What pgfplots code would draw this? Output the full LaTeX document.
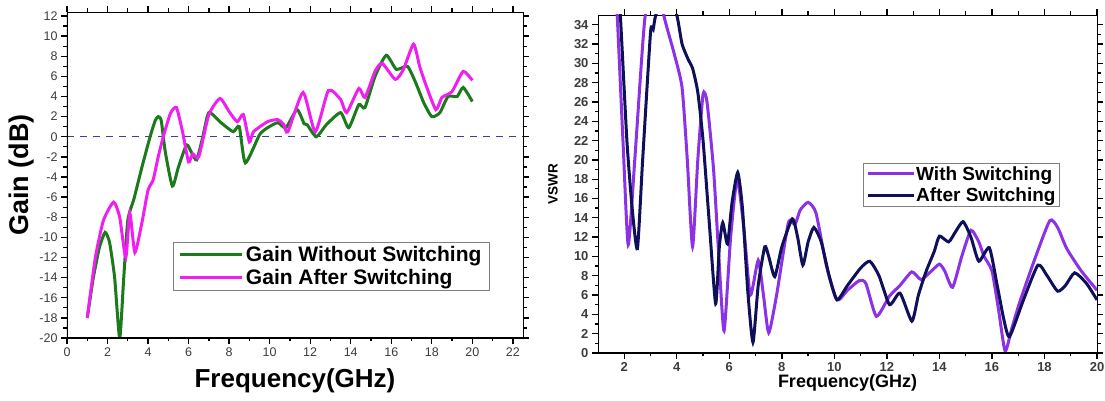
\documentclass[border=0pt]{standalone}
\usepackage{fontspec}
\setmainfont{Liberation Sans}
\usepackage{pgfplots}
\pgfplotsset{compat=1.18}
\definecolor{cgreen}{RGB}{27,122,27}
\definecolor{cmag}{RGB}{240,30,240}
\definecolor{cpurp}{RGB}{140,50,230}
\definecolor{cnavy}{RGB}{16,16,90}
\definecolor{cdash}{RGB}{60,60,170}
\definecolor{ctick}{RGB}{60,60,60}

\pgfplotsset{
  panel/.style={
    scale only axis, anchor=south west,
    /pgf/number format/assume math mode=true,
    tick align=outside, major tick length=6pt, minor tick length=3.5pt,
    every tick/.style={black, line width=1.3pt},
    axis line style={black, line width=0.8pt},
    minor x tick num=1, minor y tick num=1,
    legend cell align=left,
  }
}

\begin{document}
\begin{tikzpicture}
\useasboundingbox (0pt,0pt) rectangle (1105pt,401pt);

% ---- gain
\begin{axis}[panel, at={(67pt,63pt)}, width=456pt, height=326pt,
  xmin=0, xmax=22.5, ymin=-20, ymax=12.4,
  xtick={0,2,...,22}, ytick={-20,-18,...,12},
  tick label style={font=\fontsize{12.5}{14}\selectfont, text=ctick},
  xlabel={\bfseries Frequency(GHz)}, ylabel={\bfseries Gain (dB)},
  xlabel style={font=\fontsize{26}{30}\selectfont, at={(axis description cs:0.5,-0.13)}, anchor=center},
  ylabel style={font=\fontsize{27}{30}\selectfont, at={(axis description cs:-0.1,0.5)}, anchor=center},
  legend image code/.code={\path (0pt,0pt) -- (62pt,0pt); \draw[#1, line width=3.5pt] (22pt,0pt) -- (52pt,0pt);},
  legend style={at={(rel axis cs:0.232,0.294)}, anchor=north west, draw=gray,
    font=\bfseries\fontsize{21}{24}\selectfont, row sep=2pt, inner xsep=6pt, inner ysep=2pt},
]
\addplot[cdash, line width=1pt, dash pattern=on 7pt off 6pt, forget plot] coordinates {(0,0) (22.5,0)};
\addplot[cgreen, line width=3pt, smooth, tension=0.35] coordinates {
(1,-18) (1.3,-14) (1.6,-11) (1.88,-9.5) (2.1,-10.5) (2.35,-14) (2.6,-20) (2.8,-14) (3.0,-8.3)
(3.3,-6.2) (3.7,-3) (4.1,0) (4.35,1.6) (4.5,2.0) (4.65,1.6) (4.85,-1.5) (5.2,-4.9) (5.5,-3)
(5.9,-0.8) (6.15,-1.6) (6.4,-2.3) (6.7,0) (7.0,2.4) (7.6,1.4) (8.2,0.5) (8.5,1.0) (8.8,-2.6)
(9.5,0.2) (9.9,0.9) (10.4,1.4) (10.8,0.9) (11.35,2.7) (11.7,1.3) (11.85,1.2) (12.3,0) (12.8,1.2)
(13.5,2.4) (13.9,0.9) (14.4,3.2) (14.7,2.9) (15.2,6) (15.75,8.1) (16.25,6.7) (16.8,7) (17.2,5.4)
(17.6,3.4) (18.0,2.0) (18.4,2.4) (18.8,4) (19.25,4.0) (19.55,4.9) (20.0,3.5)};
\addplot[cmag, line width=3pt, smooth, tension=0.35] coordinates {
(1,-18) (1.4,-12) (1.8,-8.3) (2.3,-6.5) (2.6,-8) (2.9,-12) (3.1,-7.6) (3.35,-11.5) (3.7,-8.5)
(4.0,-5.3) (4.25,-4.3) (4.5,-2) (4.75,0) (5.1,2.3) (5.4,2.9) (5.7,0.5) (6.0,-2.5) (6.2,-1.7)
(6.5,-2) (7.0,2.2) (7.55,3.8) (8.0,2.5) (8.4,1.5) (8.7,2.2) (9.0,-0.5) (9.2,0.5) (9.9,1.5)
(10.4,1.7) (10.7,1.2) (10.9,0.5) (11.65,4.4) (12.25,0.5) (12.9,4.6) (13.5,3.7) (13.8,2.4)
(14.4,4.8) (14.7,3.9) (15.2,6.5) (15.55,7.3) (16.2,5.7) (16.6,6.7) (17.1,9.2) (17.4,7)
(17.7,5.2) (18.2,2.7) (18.5,3.9) (19.0,4.5) (19.55,6.5) (20.0,5.6)};
\legend{Gain Without Switching, Gain After Switching}
\draw[black, line width=2.4pt] (rel axis cs:0,1) -- (rel axis cs:0,0) -- (rel axis cs:1,0);
\end{axis}

% ---- vswr
\begin{axis}[panel, at={(598pt,48pt)}, width=499pt, height=338pt,
  xmin=1, xmax=20, ymin=0, ymax=35,
  xtick={2,4,...,20}, ytick={0,2,...,34},
  tick label style={font=\bfseries\fontsize{13}{15}\selectfont, text=ctick},
  xlabel={\bfseries Frequency(GHz)}, ylabel={\bfseries VSWR},
  xlabel style={font=\fontsize{18}{21}\selectfont, at={(axis description cs:0.5,-0.089)}, anchor=center},
  ylabel style={font=\fontsize{13.5}{16}\selectfont, at={(axis description cs:-0.09,0.5)}, anchor=center},
  legend image code/.code={\path (-2pt,0pt) -- (44pt,0pt); \draw[#1, line width=3pt] (0pt,0pt) -- (44pt,0pt);},
  legend style={at={(rel axis cs:0.531,0.562)}, anchor=north west, draw=gray,
    font=\bfseries\fontsize{19}{21}\selectfont, row sep=2pt, inner xsep=3pt, inner ysep=1pt,
    nodes={inner xsep=1pt}},
]
\addplot[cpurp, line width=3pt, smooth, tension=0.35] coordinates {
(1.6,40) (1.73,35) (1.95,22) (2.15,11.2) (2.4,20) (2.65,30) (2.8,35) (3.15,40) (3.5,35)
(3.9,31) (4.2,27.5) (4.4,20) (4.6,11) (4.8,20) (5.0,26.8) (5.15,26) (5.4,19) (5.6,10) (5.8,2.3)
(6.05,12) (6.3,18) (6.55,13) (6.8,6) (7.1,9.6) (7.3,6) (7.5,2.1) (7.8,6) (8.25,13.5) (8.5,13.3)
(8.7,14.8) (9.0,15.6) (9.3,14.5) (9.7,9) (10.1,5.5) (10.5,6.5) (10.95,7.5) (11.2,7.2) (11.6,3.8)
(12.1,5.9) (12.5,7) (12.95,8.4) (13.3,7.6) (13.7,8.5) (14.0,9.2) (14.2,8.5) (14.5,6.8) (14.85,10)
(15.2,12.7) (15.5,11.5) (15.7,10) (16.0,8.5) (16.25,4.5) (16.5,0.2) (16.75,2.5) (17.05,5.2)
(17.6,9.5) (18.2,13.7) (18.5,13) (18.85,10.8) (19.4,8.5) (20,6.5)};
\addplot[cnavy, line width=3pt, smooth, tension=0.35] coordinates {
(1.7,40) (1.85,35) (2.1,22) (2.3,15) (2.5,10.8) (2.7,20) (3.0,33.2) (3.1,33.5) (3.2,35) (3.6,38)
(4.0,35) (4.2,32) (4.45,30.3) (4.6,29.5) (4.8,27) (5.0,22) (5.25,13) (5.48,5.1) (5.62,11)
(5.75,13.5) (5.93,11.3) (6.1,15.5) (6.32,18.7) (6.5,15) (6.7,6.5) (6.9,1.1) (7.1,7) (7.35,11)
(7.5,10) (7.73,7.9) (8.0,11) (8.4,13.9) (8.6,12) (8.8,9.1) (9.0,11.5) (9.22,13) (9.5,11.5)
(9.8,8) (10.1,5.5) (10.5,7) (11.0,8.8) (11.35,9.5) (11.7,8) (12.1,5) (12.5,6.2) (12.95,3.3)
(13.2,6) (13.5,8.5) (13.8,10.5) (14.0,12.1) (14.35,11.5) (14.6,12.5) (14.9,13.6) (15.2,12)
(15.5,9.5) (15.9,10.9) (16.2,7) (16.45,3.5) (16.67,1.7) (17.2,5.5) (17.75,9.1) (18.1,8)
(18.5,6.4) (18.8,7) (19.15,8.3) (19.6,7.2) (20,5.5)};
\legend{With Switching, After Switching}
\draw[black, line width=2.4pt] (rel axis cs:0,1) -- (rel axis cs:0,0) -- (rel axis cs:1,0);
\end{axis}
\end{tikzpicture}
\end{document}
